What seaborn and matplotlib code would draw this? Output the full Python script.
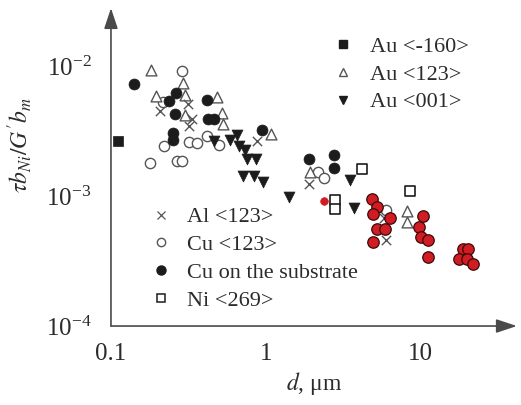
import numpy as np
import pandas as pd
import matplotlib
matplotlib.use("Agg")
import matplotlib.pyplot as plt
import seaborn as sns
from matplotlib.lines import Line2D
from matplotlib.ticker import FixedLocator, FixedFormatter, NullLocator

# ---------------- data ----------------
au160_d = [0.111]
au160_t = [0.00266]

au123_d = [0.181, 0.291, 0.195, 0.300, 0.483, 0.300, 0.520, 0.528, 1.077, 1.92, 8.12, 8.12]
au123_t = [0.00948, 0.00741, 0.00589, 0.0060, 0.00579, 0.00421, 0.00436, 0.00359, 0.0030,
           0.00154, 0.000774, 0.000638]

au001_d = [0.462, 0.586, 0.65, 0.67, 0.732, 0.754, 0.862, 0.711, 0.837, 0.956, 1.407, 3.483, 3.696]
au001_t = [0.00266, 0.00271, 0.00296, 0.00244, 0.00227, 0.00194, 0.00194, 0.001436, 0.001436,
           0.001291, 0.000991, 0.001337, 0.000816]

al123_d = [0.207, 0.314, 0.333, 0.319, 0.875, 1.893, 5.77, 5.94]
al123_t = [0.00452, 0.00511, 0.00392, 0.00347, 0.00266, 0.001247, 0.000684, 0.000464]

cu123_d = [0.287, 0.2165, 0.22, 0.319, 0.359, 0.416, 0.498, 0.179, 0.267, 0.287, 2.165, 2.366, 5.94]
cu123_t = [0.00931, 0.0053, 0.00244, 0.00262, 0.00257, 0.00291, 0.00248, 0.00181, 0.00187,
           0.00187, 0.00154, 0.001386, 0.000788]

cusub_d = [0.1406, 0.2626, 0.2367, 0.416, 0.2588, 0.4225, 0.462, 0.251, 0.251, 0.942, 1.893,
           2.745, 2.745]
cusub_t = [0.00728, 0.00621, 0.0054, 0.00549, 0.00429, 0.00392, 0.00392, 0.00307, 0.00271,
           0.00323, 0.00194, 0.00208, 0.00165]

ni269_d = [4.16, 2.79, 2.79, 8.49]
ni269_t = [0.00163, 0.00094, 0.000802, 0.0011]

red_d = [4.83, 5.20, 4.90, 6.31, 5.20, 5.86, 4.90, 10.3, 9.70, 10.0, 11.1, 11.1, 18.66, 20.1,
         17.6, 19.8, 21.65]
red_t = [0.000957, 0.000831, 0.000734, 0.000684, 0.000563, 0.000563, 0.000448, 0.000709,
         0.000584, 0.000489, 0.000464, 0.000338, 0.000389, 0.000389, 0.000326, 0.000326,
         0.000299]

red_small_d = [2.366]
red_small_t = [0.000924]

legend_top = ["Au <-160>", "Au <123>", "Au <001>"]
legend_bottom = ["Al <123>", "Cu <123>", "Cu on the substrate", "Ni <269>"]

x_ticks = [0.1, 1, 10]
x_tick_labels = ["0.1", "1", "10"]
y_ticks = [1e-4, 1e-3, 1e-2]
y_tick_labels = [r"$\mathregular{10^{-4}}$", r"$\mathregular{10^{-3}}$", r"$\mathregular{10^{-2}}$"]

# ---------------- style ----------------
sns.set_style("white")
plt.rcParams["font.family"] = ["Liberation Serif", "DejaVu Serif"]
plt.rcParams["mathtext.fontset"] = "stix"

TXT = "#2b2b2b"
BLK = "#1c1c1c"
GRY = "#555555"
RED = "#d01c22"

fig = plt.figure(figsize=(5.21, 4.05), dpi=100)
ax = fig.add_axes([0.213, 0.195, 0.779, 0.785])
ax.set_xscale("log")
ax.set_yscale("log")


def scat(d, t, **kw):
    df = pd.DataFrame({"d": d, "t": t})
    sns.scatterplot(data=df, x="d", y="t", ax=ax, legend=False, zorder=3, **kw)


scat(cu123_d, cu123_t, marker="o", s=55, facecolor="white", edgecolor=GRY, linewidth=1.0)
scat(au123_d, au123_t, marker="^", s=60, facecolor="white", edgecolor=GRY, linewidth=1.0)
scat(al123_d, al123_t, marker="x", s=45, color=GRY, linewidth=1.0)
scat(ni269_d, ni269_t, marker="s", s=45, facecolor="white", edgecolor=BLK, linewidth=1.2)
scat(cusub_d, cusub_t, marker="o", s=62, color=BLK, edgecolor=BLK, linewidth=0.5)
scat(au001_d, au001_t, marker="v", s=62, color=BLK, edgecolor=BLK, linewidth=0.5)
scat(au160_d, au160_t, marker="s", s=50, color=BLK, edgecolor=BLK, linewidth=0.5)
scat(red_d, red_t, marker="o", s=68, color=RED, edgecolor="#3a0a0a", linewidth=0.9)
scat(red_small_d, red_small_t, marker="o", s=30, color=RED, edgecolor=RED, linewidth=0.5)

ax.set_xlim(0.1, 41.7)
ax.set_ylim(1e-4, 10 ** -1.55)

for sp in ax.spines.values():
    sp.set_visible(False)

arrow_kw = dict(arrowstyle="-|>,head_length=0.9,head_width=0.3", color="#4a4a4a",
                lw=1.2, mutation_scale=14, shrinkA=0, shrinkB=0)
ax.annotate("", xy=(1.0, 0), xytext=(0, 0), xycoords="axes fraction",
            textcoords="axes fraction", arrowprops=arrow_kw, annotation_clip=False)
ax.annotate("", xy=(0, 1.0), xytext=(0, 0), xycoords="axes fraction",
            textcoords="axes fraction", arrowprops=arrow_kw, annotation_clip=False)

ax.xaxis.set_major_locator(FixedLocator(x_ticks))
ax.xaxis.set_major_formatter(FixedFormatter(x_tick_labels))
ax.xaxis.set_minor_locator(NullLocator())
ax.yaxis.set_major_locator(FixedLocator(y_ticks))
ax.yaxis.set_major_formatter(FixedFormatter(y_tick_labels))
ax.yaxis.set_minor_locator(NullLocator())
ax.tick_params(axis="both", direction="in", length=8, width=1.0, color="#4a4a4a",
               labelsize=18, labelcolor=TXT)
ax.tick_params(axis="x", pad=12)
ax.tick_params(axis="y", pad=14)

ax.set_xlabel(r"$d$, μm", fontsize=17, color=TXT, labelpad=4)
ax.set_ylabel(r"$\tau b_{Ni}/G'b_m$", fontsize=17, color=TXT)
ax.yaxis.set_label_coords(-0.19, 0.57)

h_top = [
    Line2D([], [], ls="", marker="s", ms=6, mfc=BLK, mec=BLK),
    Line2D([], [], ls="", marker="^", ms=6, mfc="white", mec=GRY, mew=1.0),
    Line2D([], [], ls="", marker="v", ms=6, mfc=BLK, mec=BLK),
]
leg1 = ax.legend(h_top, legend_top, loc="upper left", bbox_to_anchor=(0.545, 0.912),
                 frameon=False, fontsize=16, labelspacing=0.33, handlelength=1.0,
                 handletextpad=0.7, borderpad=0, borderaxespad=0)
for t in leg1.get_texts():
    t.set_color(TXT)
ax.add_artist(leg1)

h_bot = [
    Line2D([], [], ls="", marker="x", ms=5.5, mec=GRY, mew=0.9),
    Line2D([], [], ls="", marker="o", ms=6, mfc="white", mec=GRY, mew=1.0),
    Line2D([], [], ls="", marker="o", ms=6.5, mfc=BLK, mec=BLK),
    Line2D([], [], ls="", marker="s", ms=5.5, mfc="white", mec=BLK, mew=1.1),
]
leg2 = ax.legend(h_bot, legend_bottom, loc="upper left", bbox_to_anchor=(0.095, 0.375),
                 frameon=False, fontsize=16, labelspacing=0.33, handlelength=1.0,
                 handletextpad=0.7, borderpad=0, borderaxespad=0)
for t in leg2.get_texts():
    t.set_color(TXT)

fig.savefig("out.png", dpi=100)
